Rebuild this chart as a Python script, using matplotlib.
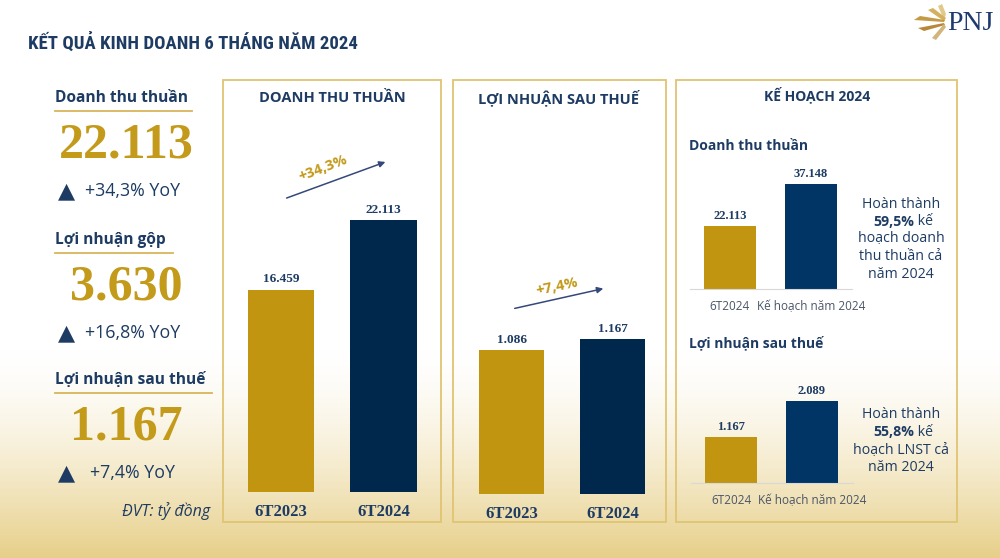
import numpy as np
import matplotlib.pyplot as plt
from matplotlib.patches import Rectangle, Polygon

# Số liệu (tỷ đồng)
periods = ['6T2023', '6T2024']
revenue = [16459, 22113]
profit = [1086, 1167]
plan_labels = ['6T2024', 'Kế hoạch năm 2024']
plan_revenue = [22113, 37148]
plan_profit = [1167, 2089]

kpi_titles = ['Doanh thu thuần', 'Lợi nhuận gộp', 'Lợi nhuận sau thuế']
kpi_values = [22113, 3630, 1167]
kpi_growth = ['+34,3%', '+16,8%', '+7,4%']
revenue_growth = '+34,3%'
profit_growth = '+7,4%'
plan_done = ['59,5%', '55,8%']
plan_notes = [['Hoàn thành', ' kế', 'hoạch doanh', 'thu thuần cả', 'năm 2024'],
              ['Hoàn thành', ' kế', 'hoạch LNST cả', 'năm 2024']]

NAVY = '#1d3b63'
NAVY_BAR = '#00284d'
NAVY_BAR2 = '#003566'
GOLD = '#c1950f'
GOLD_TXT = '#c39a1a'
BORDER = '#e0c472'

SANS = ['Open Sans', 'DejaVu Sans']
SERIF = ['Liberation Serif', 'DejaVu Serif']
NARROW = ['Roboto Condensed', 'Liberation Sans Narrow', 'DejaVu Sans Condensed', 'DejaVu Sans']

W, H = 1000, 558


def fmt(v):
    return f"{v:,}".replace(',', '.')


fig = plt.figure(figsize=(W / 100, H / 100), dpi=100)

# Nền: trắng -> vàng nhạt ở dưới
bg = fig.add_axes([0, 0, 1, 1])
yy = np.arange(H)
t = np.clip((yy - 350) / (H - 350), 0, 1) ** 1.5
top_c = np.array([1.0, 1.0, 1.0])
bot_c = np.array([231, 207, 136]) / 255
img = top_c * (1 - t[:, None]) + bot_c * t[:, None]
img = np.repeat(img[:, None, :], 2, axis=1)
bg.imshow(img, extent=[0, W, H, 0], aspect='auto', zorder=0)
bg.set_xlim(0, W)
bg.set_ylim(H, 0)
bg.axis('off')

# Tiêu đề
bg.text(28, 43, 'KẾT QUẢ KINH DOANH 6 THÁNG NĂM 2024', family=NARROW, fontweight='bold',
        fontstretch='condensed', fontsize=13.5, color=NAVY, va='center', ha='left')

# Logo PNJ (đơn giản)
bg.text(947, 23, 'PNJ', family=SERIF, fontsize=20, color='#1f3a6e', va='center', ha='left')
feathers = [
    [(944, 20), (938, 6), (942, 4), (946, 14)],
    [(944, 21), (928, 10), (933, 8), (946, 18)],
    [(944, 22), (914, 20), (920, 16), (945, 20)],
    [(944, 23), (918, 28), (924, 31), (945, 25)],
    [(944, 24), (932, 38), (936, 40), (946, 27)],
]
fcols = ['#e0c98a', '#d4b161', '#c49a45', '#b8873a', '#d2b57a']
for pts, c in zip(feathers, fcols):
    bg.add_patch(Polygon(pts, closed=True, color=c, lw=0))

# Cột trái: chỉ số chính
kpi_rows = [98, 240, 380]
kpi_under = [192, 173, 212]
kpi_text_x = [85, 85, 90]
for i, title in enumerate(kpi_titles):
    y0 = kpi_rows[i]
    bg.text(55, y0, title, family=SANS, fontweight='bold', fontsize=11.2, color=NAVY,
            va='center', ha='left')
    bg.plot([55, kpi_under[i]], [y0 + 13, y0 + 13], color='#d9b55a', lw=1.3)
    bg.text(126, y0 + 47, fmt(kpi_values[i]), family=SERIF, fontweight='bold', fontsize=36,
            color=GOLD_TXT, va='center', ha='center')
    bg.text(67, y0 + 93, '▲', family=['DejaVu Sans'], fontsize=16, color=NAVY, va='center', ha='center')
    bg.text(kpi_text_x[i], y0 + 93, kpi_growth[i] + ' YoY', family=SANS, fontsize=12.8,
            color=NAVY, va='center', ha='left')
bg.text(210, 511, 'ĐVT: tỷ đồng', family=SANS, fontstyle='italic', fontsize=11.5, color=NAVY,
        va='center', ha='right')

# Khung
for x0, x1 in [(223, 441), (453, 666), (676, 957)]:
    bg.add_patch(Rectangle((x0, 80), x1 - x0, 442, fill=False, edgecolor=BORDER, lw=1.3))

bg.text(332, 98, 'DOANH THU THUẦN', family=SANS, fontweight='bold', fontsize=10.5, color=NAVY,
        va='center', ha='center')
bg.text(559, 98, 'LỢI NHUẬN SAU THUẾ', family=SANS, fontweight='bold', fontsize=10.5, color=NAVY,
        va='center', ha='center')
bg.text(817, 95, 'KẾ HOẠCH 2024', family=SANS, fontweight='bold', fontsize=10, color=NAVY,
        va='center', ha='center')
bg.text(689, 146, 'Doanh thu thuần', family=SANS, fontweight='bold', fontsize=10, color=NAVY,
        va='center', ha='left')
bg.text(689, 343, 'Lợi nhuận sau thuế', family=SANS, fontweight='bold', fontsize=10, color=NAVY,
        va='center', ha='left')


def bar_axes(c0, c1, bw, base, px_per, top, values, colors, labels, big=True, baseline=False):
    gap = c1 - c0
    left = c0 - gap / 2
    ax = fig.add_axes([left / W, 1 - base / H, 2 * gap / W, (base - top) / H])
    ax.set_facecolor('none')
    ax.set_xlim(-0.5, 1.5)
    ax.set_ylim(0, (base - top) / px_per)
    ax.bar(range(len(values)), values, width=bw / gap, color=colors)
    for i, v in enumerate(values):
        ax.annotate(fmt(v), (i, v), xytext=(0, 3), textcoords='offset points', ha='center',
                    va='bottom', family=SERIF, fontweight='bold', fontsize=9.5 if big else 9,
                    color=NAVY)
    ax.set_xticks(range(len(values)))
    if big:
        ax.set_xticklabels(labels, family=SERIF, fontweight='bold', fontsize=12, color=NAVY)
        ax.tick_params(axis='x', length=0, pad=9)
    else:
        ax.set_xticklabels(labels, family=SANS, fontsize=8.5, color='#4a5568')
        ax.tick_params(axis='x', length=0, pad=8)
    ax.set_yticks([])
    for s in ax.spines.values():
        s.set_visible(False)
    if baseline:
        ax.spines['bottom'].set_visible(True)
        ax.spines['bottom'].set_color('#d8d8d8')
    return ax


bar_axes(281, 383.5, 66.5, 492, 272 / 22113, 180, revenue, [GOLD, NAVY_BAR], periods)
bar_axes(511.5, 612.5, 65, 494, 155 / 1167, 300, profit, [GOLD, NAVY_BAR], periods)
bar_axes(730, 811, 52, 289, 105 / 37148, 160, plan_revenue, [GOLD, NAVY_BAR2], plan_labels,
         big=False, baseline=True)
bar_axes(731, 812, 52, 483, 82 / 2089, 370, plan_profit, [GOLD, NAVY_BAR2], plan_labels,
         big=False, baseline=True)

# Mũi tên tăng trưởng
bg.annotate('', xy=(388, 161), xytext=(284, 199),
            arrowprops=dict(arrowstyle='-|>', color='#34497a', lw=1.1, mutation_scale=9))
bg.text(323, 168, revenue_growth, family=SANS, fontweight='bold', fontsize=10.5, color=GOLD_TXT,
        rotation=21, va='center', ha='center')
bg.annotate('', xy=(606, 288), xytext=(512, 309),
            arrowprops=dict(arrowstyle='-|>', color='#34497a', lw=1.1, mutation_scale=9))
bg.text(557, 287, profit_growth, family=SANS, fontweight='bold', fontsize=10.5, color=GOLD_TXT,
        rotation=12, va='center', ha='center')

# Ghi chú hoàn thành kế hoạch
for k, y0 in enumerate([204, 415]):
    step = 17.5
    notes = plan_notes[k]
    bg.text(901, y0, notes[0], family=SANS, fontsize=10.2, color=NAVY, va='center', ha='center')
    bg.text(914, y0 + step, plan_done[k], family=SANS, fontweight='bold', fontsize=10.2,
            color=NAVY, va='center', ha='right')
    bg.text(914, y0 + step, notes[1], family=SANS, fontsize=10.2, color=NAVY, va='center', ha='left')
    for j, line in enumerate(notes[2:]):
        bg.text(901, y0 + step * (j + 2), line, family=SANS, fontsize=10.2, color=NAVY,
                va='center', ha='center')

fig.savefig('out.png', dpi=100)
